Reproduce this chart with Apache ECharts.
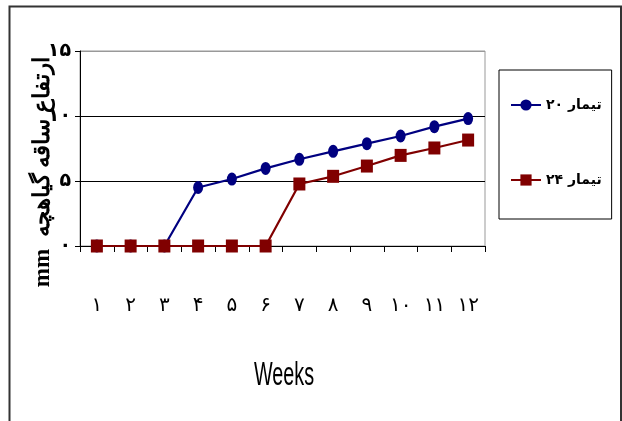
<!DOCTYPE html>
<html><head><meta charset="utf-8">
<script src="https://cdn.jsdelivr.net/npm/echarts@6/dist/echarts.min.js"></script>
<style>html,body{margin:0;padding:0;background:#fff}#c{width:622px;height:421px}</style>
</head><body><div id="c"></div>
<script>
const weeks = ['۱','۲','۳','۴','۵','۶','۷','۸','۹','۱۰','۱۱','۱۲'];
const yTickLabels = {0:'۰',5:'۵',10:'۱۰',15:'۱۵'};
const seriesNames = ['تیمار ۲۰', 'تیمار ۲۴'];
const seriesA = [0,0,0,4.5,5.15,5.97,6.67,7.28,7.87,8.46,9.18,9.8];
const seriesB = [0,0,0,0,0,0,4.77,5.36,6.15,6.97,7.54,8.15];
const yTitle = 'mm  ارتفاع ساقه گیاهچه';
const xTitle = 'Weeks';

const chart = echarts.init(document.getElementById('c'), null, {renderer:'canvas'});
chart.setOption({
  animation:false,
  backgroundColor:'#fff',
  grid:{left:80, right:137, top:51, bottom:175, show:true, borderColor:'#999', borderWidth:1, backgroundColor:'transparent'},
  xAxis:{
    type:'category', data:weeks, boundaryGap:true,
    axisLine:{lineStyle:{color:'#000', width:1}},
    axisTick:{show:true, length:6, lineStyle:{color:'#000'}},
    axisLabel:{margin:50, fontSize:20, color:'#000', fontFamily:'DejaVu Sans'}
  },
  yAxis:{
    type:'value', min:0, max:15, interval:5,
    axisLine:{show:true, lineStyle:{color:'#000', width:1}},
    axisTick:{show:true, length:5, lineStyle:{color:'#000'}},
    axisLabel:{margin:9, fontSize:19, fontWeight:'bold', color:'#000', fontFamily:'DejaVu Sans',
      formatter:v=>yTickLabels[v]},
    splitLine:{show:true, lineStyle:{color:['#000','#000','#000','#999'], width:1}}
  },
  legend:{
    orient:'vertical', left:499, top:70,
    padding:[28,10,32,11], itemGap:61, itemWidth:30, itemHeight:14,
    borderColor:'#000', borderWidth:1,
    textStyle:{fontSize:14, fontWeight:'bold', color:'#000', width:62, fontFamily:'DejaVu Sans'},
    data:seriesNames
  },
  series:[
    {name:seriesNames[0], type:'line', data:seriesA, color:'#000080',
     symbol:'circle', symbolSize:[10,13], lineStyle:{width:2.2, color:'#000080'},
     itemStyle:{color:'#000080'}},
    {name:seriesNames[1], type:'line', data:seriesB, color:'#800000',
     symbol:'rect', symbolSize:[12,13], lineStyle:{width:2.2, color:'#800000'},
     itemStyle:{color:'#800000'}}
  ],
  graphic:[
    {type:'polyline', shape:{points:[[9.5,440],[9.5,6.5],[621,6.5],[621,440]]},
     style:{stroke:'#333', lineWidth:2, fill:null}, silent:true},
    {type:'text', x:43, y:172, rotation:Math.PI/2,
     style:{text:yTitle, fontSize:23, fontWeight:'bold', fontFamily:'Liberation Serif, DejaVu Serif', fill:'#000',
       align:'center', verticalAlign:'middle'}},
    {type:'text', x:284, y:376, scaleX:0.6,
     style:{text:xTitle, fontSize:33, fontFamily:'Liberation Sans', fill:'#000',
       align:'center', verticalAlign:'middle'}}
  ]
});
</script></body></html>
